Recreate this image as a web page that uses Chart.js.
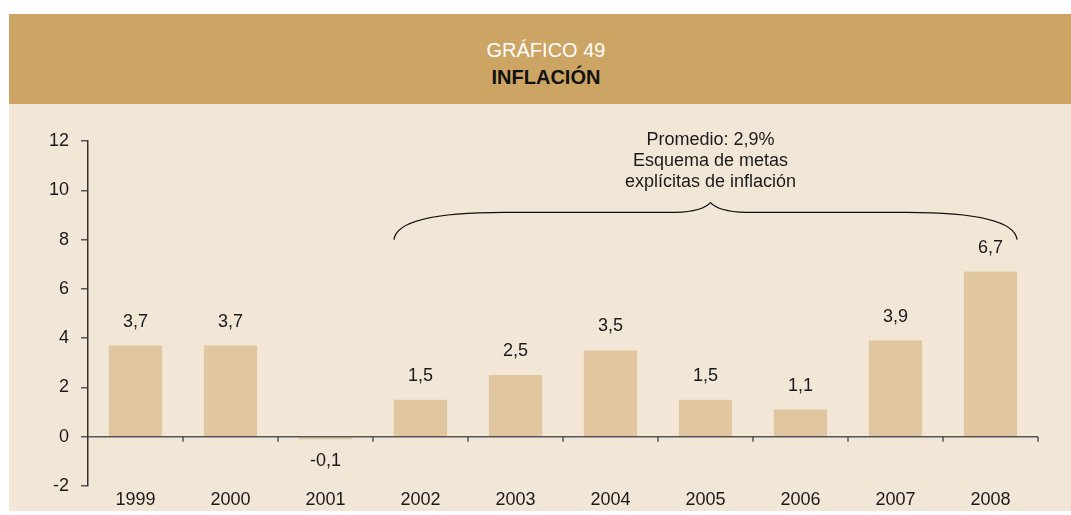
<!DOCTYPE html>
<html>
<head>
<meta charset="utf-8">
<script src="https://cdn.jsdelivr.net/npm/chart.js@4.4.1/dist/chart.umd.min.js"></script>
<style>
  body { margin: 0; background: #fff; font-family: "Liberation Sans", Arial, sans-serif; }
  #panel { position: absolute; left: 9px; top: 14px; width: 1062px; height: 497px; background: #f2e6d7; }
  #header { position: absolute; left: 0; top: 0; width: 1062px; height: 90px; background: #cca463;
            text-align: center; padding-left: 12px; box-sizing: border-box; }
  #header .t1 { color: #fff; font-size: 20px; position: absolute; left: 12px; right: 0; top: 25px; }
  #header .t2 { color: #111; font-size: 20px; font-weight: bold; position: absolute; left: 12px; right: 0; top: 52px; }
  #wrap { position: absolute; left: 0; top: 90px; width: 1062px; height: 407px; }
</style>
</head>
<body>
<div id="panel">
  <div id="header">
    <div class="t1">GRÁFICO 49</div>
    <div class="t2">INFLACIÓN</div>
  </div>
  <div id="wrap"><canvas id="chart"></canvas></div>
</div>
<script>
const years = ['1999', '2000', '2001', '2002', '2003', '2004', '2005', '2006', '2007', '2008'];
const inflation = [3.7, 3.7, -0.1, 1.5, 2.5, 3.5, 1.5, 1.1, 3.9, 6.7];
const noteLines = ['Promedio: 2,9%', 'Esquema de metas', 'explícitas de inflación'];
const bracketFrom = 3;   // 2002
const bracketTo = 9;     // 2008

const font = '"Liberation Sans", Arial, sans-serif';
const textColor = '#1a1a1a';

function fmt(v) {
    return v.toFixed(1).replace('.', ',');
}

// zero line with tick marks between categories, bar labels, and the bracket note
const extras = {
    id: 'extras',
    afterDatasetsDraw(chart) {
        const ctx = chart.ctx;
        const x = chart.scales.x, y = chart.scales.y;
        const area = chart.chartArea;
        const y0 = y.getPixelForValue(0);
        const step = (area.right - area.left) / years.length;

        ctx.save();
        ctx.strokeStyle = '#555';
        ctx.lineWidth = 1.5;
        ctx.beginPath();
        ctx.moveTo(area.left, y0);
        ctx.lineTo(area.right, y0);
        for (let i = 1; i <= years.length; i++) {
            const bx = area.left + step * i;
            ctx.moveTo(bx, y0);
            ctx.lineTo(bx, y0 + 5);
        }
        ctx.stroke();

        // value labels
        ctx.fillStyle = textColor;
        ctx.font = '18px ' + font;
        ctx.textAlign = 'center';
        ctx.textBaseline = 'middle';
        const bars = chart.getDatasetMeta(0).data;
        bars.forEach((bar, i) => {
            const v = inflation[i];
            const ly = v >= 0 ? bar.y - 24 : bar.y + 22;
            ctx.fillText(fmt(v), bar.x, ly);
        });

        // curly bracket
        const b1 = bars[bracketFrom], b2 = bars[bracketTo];
        const L = b1.x - b1.width / 2;
        const R = b2.x + b2.width / 2;
        const tipX = (L + R) / 2 + 5;
        const yEnd = y.getPixelForValue(8);
        const yFlat = y.getPixelForValue(9.1);
        const yTip = y.getPixelForValue(9.5);
        ctx.strokeStyle = '#111';
        ctx.lineWidth = 1.2;
        ctx.beginPath();
        ctx.moveTo(L, yEnd);
        ctx.quadraticCurveTo(L + 4, yFlat, L + 110, yFlat);
        ctx.lineTo(tipX - 35, yFlat);
        ctx.quadraticCurveTo(tipX - 8, yFlat - 1, tipX, yTip);
        ctx.quadraticCurveTo(tipX + 8, yFlat - 1, tipX + 35, yFlat);
        ctx.lineTo(R - 110, yFlat);
        ctx.quadraticCurveTo(R - 4, yFlat, R, yEnd);
        ctx.stroke();

        noteLines.forEach((line, i) => {
            ctx.fillText(line, tipX, yTip - 63 + i * 21);
        });
        ctx.restore();
    }
};

new Chart(document.getElementById('chart'), {
    type: 'bar',
    data: {
        labels: years,
        datasets: [{
            data: inflation,
            backgroundColor: '#e0c7a0',
            borderWidth: 0,
            barPercentage: 0.56,
            categoryPercentage: 1
        }]
    },
    options: {
        responsive: true,
        maintainAspectRatio: false,
        animation: false,
        layout: { padding: { top: 37, right: 33, bottom: 0, left: 0 } },
        plugins: {
            legend: { display: false },
            tooltip: { enabled: false }
        },
        scales: {
            x: {
                grid: { display: false, drawTicks: false },
                border: { display: false },
                ticks: { color: textColor, font: { size: 18, family: font }, padding: 3, maxRotation: 0 },
                afterFit(scale) { scale.height = 25; }
            },
            y: {
                min: -2,
                max: 12,
                ticks: { stepSize: 2, color: textColor, font: { size: 18, family: font }, padding: 12 },
                grid: { drawOnChartArea: false, drawTicks: true, tickLength: 7, color: '#555', lineWidth: 1.5 },
                border: { display: true, color: '#333', width: 1.5 },
                afterFit(scale) { scale.width = 79; }
            }
        }
    },
    plugins: [extras]
});
</script>
</body>
</html>
